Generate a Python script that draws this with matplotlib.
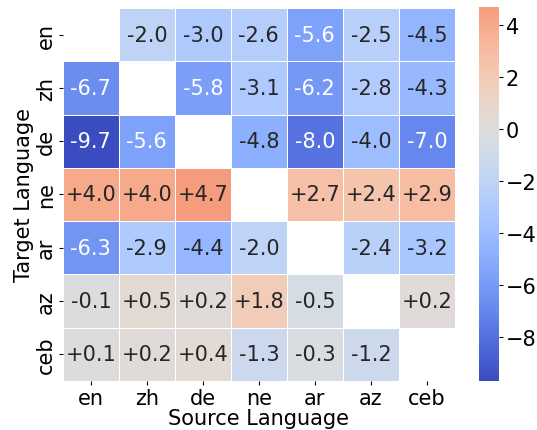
import numpy as np
import matplotlib
matplotlib.use("Agg")
import matplotlib.pyplot as plt
import seaborn as sns

languages = ["en", "zh", "de", "ne", "ar", "az", "ceb"]
row_en = [np.nan, -2.0, -3.0, -2.6, -5.6, -2.5, -4.5]
row_zh = [-6.7, np.nan, -5.8, -3.1, -6.2, -2.8, -4.3]
row_de = [-9.7, -5.6, np.nan, -4.8, -8.0, -4.0, -7.0]
row_ne = [4.0, 4.0, 4.7, np.nan, 2.7, 2.4, 2.9]
row_ar = [-6.3, -2.9, -4.4, -2.0, np.nan, -2.4, -3.2]
row_az = [-0.1, 0.5, 0.2, 1.8, -0.5, np.nan, 0.2]
row_ceb = [0.1, 0.2, 0.4, -1.3, -0.3, -1.2, np.nan]

data = np.array([row_en, row_zh, row_de, row_ne, row_ar, row_az, row_ceb])
labels = np.array([["" if np.isnan(v) else f"{v:+.1f}" for v in r] for r in data])

fig = plt.figure(figsize=(5.37, 4.31), dpi=100)
ax = fig.add_axes([0.117, 0.114, 0.730, 0.865])
cax = fig.add_axes([0.892, 0.114, 0.037, 0.868])

sns.heatmap(data, ax=ax, cbar_ax=cax, cmap="coolwarm", center=0,
            annot=labels, fmt="", annot_kws={"fontsize": 15},
            linewidths=0.6, linecolor="white",
            xticklabels=languages, yticklabels=languages)
ax.set_xlabel("Source Language", fontsize=15, labelpad=0)
ax.set_ylabel("Target Language", fontsize=15, labelpad=1)
ax.tick_params(axis="both", labelsize=15, length=3, pad=2)
ax.set_yticklabels(languages, rotation=90, va="center")
ax.set_xticklabels(languages, rotation=0)
cax.tick_params(labelsize=15, length=3, pad=2)
cax.set_yticks([4, 2, 0, -2, -4, -6, -8])

fig.savefig("out.png", dpi=100)
